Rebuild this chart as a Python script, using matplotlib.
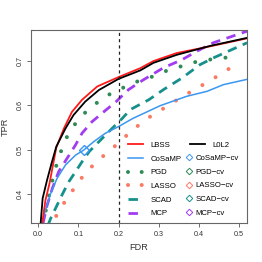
import matplotlib
matplotlib.use("Agg")
import matplotlib.pyplot as plt
from matplotlib.lines import Line2D

plt.rcParams["font.family"] = ["Liberation Sans", "DejaVu Sans"]

# curves (FDR, TPR)
lbss_fdr = [0.010, 0.018, 0.028, 0.045, 0.064, 0.084, 0.109, 0.147, 0.200, 0.254, 0.287, 0.345, 0.428, 0.52]
lbss_tpr = [0.335, 0.387, 0.424, 0.505, 0.548, 0.585, 0.612, 0.642, 0.663, 0.683, 0.699, 0.717, 0.732, 0.750]

l0l2_fdr = [0.006, 0.011, 0.022, 0.033, 0.045, 0.068, 0.088, 0.117, 0.151, 0.200, 0.254, 0.287, 0.345, 0.428, 0.52]
l0l2_tpr = [0.335, 0.391, 0.432, 0.469, 0.507, 0.548, 0.578, 0.608, 0.634, 0.659, 0.678, 0.695, 0.713, 0.733, 0.751]

cosamp_fdr = [0.010, 0.018, 0.031, 0.047, 0.068, 0.093, 0.113, 0.138, 0.167, 0.200, 0.235, 0.304, 0.370, 0.420, 0.461, 0.52]
cosamp_tpr = [0.335, 0.365, 0.402, 0.436, 0.466, 0.488, 0.499, 0.518, 0.537, 0.552, 0.570, 0.599, 0.620, 0.631, 0.646, 0.658]

pgd_fdr = [0.012, 0.017, 0.024, 0.032, 0.041, 0.053, 0.066, 0.085, 0.109, 0.138, 0.170, 0.204, 0.239,
           0.276, 0.312, 0.348, 0.387, 0.424, 0.463, 0.501]
pgd_tpr = [0.330, 0.356, 0.385, 0.418, 0.453, 0.487, 0.520, 0.550, 0.577, 0.600, 0.621, 0.636, 0.651,
           0.661, 0.675, 0.685, 0.696, 0.702, 0.706, 0.713]

lasso_fdr = [0.030, 0.037, 0.055, 0.078, 0.099, 0.124, 0.151, 0.180, 0.210, 0.239, 0.269, 0.302, 0.335,
             0.368, 0.401, 0.435, 0.468, 0.502]
lasso_tpr = [0.320, 0.338, 0.369, 0.398, 0.427, 0.454, 0.478, 0.499, 0.524, 0.547, 0.569, 0.587, 0.606,
             0.624, 0.641, 0.659, 0.678, 0.696]

scad_fdr = [0.024, 0.031, 0.045, 0.060, 0.076, 0.093, 0.109, 0.127, 0.151, 0.184, 0.210, 0.229, 0.275,
            0.312, 0.358, 0.403, 0.436, 0.473, 0.52]
scad_tpr = [0.330, 0.346, 0.372, 0.400, 0.428, 0.451, 0.473, 0.496, 0.518, 0.548, 0.571, 0.590, 0.612,
            0.635, 0.661, 0.691, 0.706, 0.721, 0.740]

mcp_fdr = [0.012, 0.022, 0.035, 0.051, 0.072, 0.093, 0.109, 0.134, 0.163, 0.194, 0.225, 0.262, 0.312,
           0.358, 0.395, 0.436, 0.478, 0.52]
mcp_tpr = [0.335, 0.375, 0.413, 0.451, 0.481, 0.511, 0.537, 0.563, 0.585, 0.608, 0.635, 0.657, 0.684,
           0.702, 0.721, 0.740, 0.753, 0.766]

# cross-validated pick (only CoSaMP-cv falls inside the window)
cosamp_cv = (0.115, 0.499)

fdr_cut = 0.2
x_ticks = [0.0, 0.1, 0.2, 0.3, 0.4, 0.5]
y_ticks = [0.4, 0.5, 0.6, 0.7]

C_LBSS = "#ff1a1a"
C_L0L2 = "black"
C_COSAMP = "#3a96f0"
C_PGD = "#2e8b57"
C_LASSO = "#fa7a64"
C_SCAD = "#17908c"
C_MCP = "#a23cf0"

fig = plt.figure(figsize=(2.62, 2.62), dpi=100)
ax = fig.add_axes([0.1183, 0.1477, 0.8233, 0.7367])

dot = (0, (0.001, 3.8))
dash = (0, (3.4, 2.4))

ax.plot(lasso_fdr, lasso_tpr, color=C_LASSO, lw=2.9, linestyle=dot, dash_capstyle="round")
ax.plot(pgd_fdr, pgd_tpr, color=C_PGD, lw=2.9, linestyle=dot, dash_capstyle="round")
ax.plot(scad_fdr, scad_tpr, color=C_SCAD, lw=2.0, linestyle=dash)
ax.plot(mcp_fdr, mcp_tpr, color=C_MCP, lw=2.0, linestyle=dash)
ax.plot(cosamp_fdr, cosamp_tpr, color=C_COSAMP, lw=1.1)
ax.plot(lbss_fdr, lbss_tpr, color=C_LBSS, lw=1.3)
ax.plot(l0l2_fdr, l0l2_tpr, color=C_L0L2, lw=1.3)
ax.plot([cosamp_cv[0]], [cosamp_cv[1]], marker="D", ms=5.2, mfc="none", mec=C_COSAMP, mew=1.0, ls="none")
ax.axvline(fdr_cut, color="#222222", lw=0.9, linestyle=(0, (2.5, 2.5)))

ax.set_xlim(-0.018, 0.519)
ax.set_ylim(0.335, 0.768)
ax.set_xticks(x_ticks)
ax.set_xticklabels([f"{v:.1f}" for v in x_ticks])
ax.set_yticks(y_ticks)
ax.set_yticklabels([f"{v:.1f}" for v in y_ticks], rotation=90, va="center")
ax.tick_params(labelsize=5.2, length=3, width=0.6, color="#555555", labelcolor="#333333", pad=2.5)
for s in ax.spines.values():
    s.set_color("#666666")
    s.set_linewidth(0.8)
ax.set_xlabel("FDR", fontsize=6.6, color="#333333", labelpad=4)
ax.set_ylabel("TPR", fontsize=6.6, color="#333333", labelpad=4.5)

leg_kw = dict(frameon=False, fontsize=5.6, borderpad=0, borderaxespad=0, labelspacing=0.80,
              handlelength=1.95, handletextpad=0.95, loc="upper left")

h1 = [Line2D([], [], color=C_LBSS, lw=1.3),
      Line2D([], [], color=C_COSAMP, lw=1.1),
      Line2D([], [], color=C_PGD, lw=2.9, linestyle=(0, (0.001, 3.4)), dash_capstyle="round"),
      Line2D([], [], color=C_LASSO, lw=2.9, linestyle=(0, (0.001, 3.4)), dash_capstyle="round"),
      Line2D([], [], color=C_SCAD, lw=2.0, linestyle=dash),
      Line2D([], [], color=C_MCP, lw=2.0, linestyle=dash)]
l1 = ax.legend(h1, ["LBSS", "CoSaMP", "PGD", "LASSO", "SCAD", "MCP"], bbox_to_anchor=(0.450, 0.424), **leg_kw)
ax.add_artist(l1)

l2 = ax.legend([Line2D([], [], color=C_L0L2, lw=1.3)], ["L0L2"], bbox_to_anchor=(0.737, 0.424), **leg_kw)
ax.add_artist(l2)

cv_cols = [C_COSAMP, C_PGD, C_LASSO, C_SCAD, C_MCP]
h3 = [Line2D([], [], marker="D", ms=3.3, mfc="none", mec=c, mew=0.7, ls="none") for c in cv_cols]
kw3 = dict(leg_kw, handlelength=0.7, handletextpad=0.45)
ax.legend(h3, ["CoSaMP−cv", "PGD−cv", "LASSO−cv", "SCAD−cv", "MCP−cv"],
          bbox_to_anchor=(0.722, 0.356), **kw3)

fig.savefig("out.png", dpi=100)
